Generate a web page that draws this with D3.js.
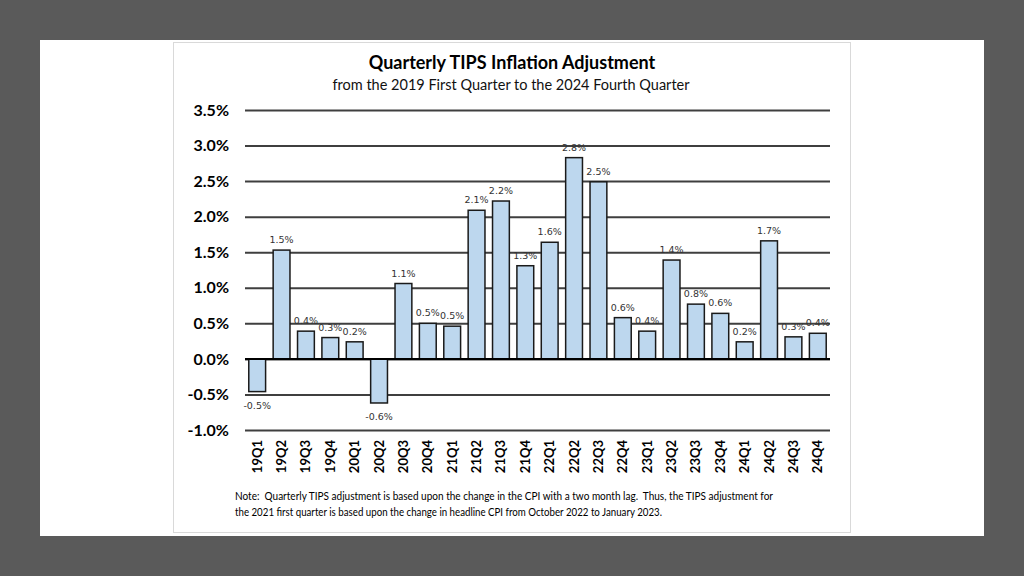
<!DOCTYPE html>
<html>
<head>
<meta charset="utf-8">
<script src="https://cdn.jsdelivr.net/npm/d3@7"></script>
<style>
  html, body { margin: 0; padding: 0; background: #5a5a5a; }
  svg { display: block; }
</style>
</head>
<body>
<svg width="1024" height="576"></svg>
<script>
let quarters = ['19Q1', '19Q2', '19Q3', '19Q4', '20Q1', '20Q2', '20Q3', '20Q4',
                '21Q1', '21Q2', '21Q3', '21Q4', '22Q1', '22Q2', '22Q3', '22Q4',
                '23Q1', '23Q2', '23Q3', '23Q4', '24Q1', '24Q2', '24Q3', '24Q4'];
let adjustment = [-0.46, 1.53, 0.39, 0.30, 0.24, -0.62, 1.06, 0.50,
                  0.46, 2.09, 2.22, 1.31, 1.64, 2.83, 2.49, 0.58,
                  0.39, 1.39, 0.77, 0.64, 0.24, 1.66, 0.31, 0.36];
let yTicks = [-1.0, -0.5, 0.0, 0.5, 1.0, 1.5, 2.0, 2.5, 3.0, 3.5];
let title = 'Quarterly TIPS Inflation Adjustment';
let subtitle = 'from the 2019 First Quarter to the 2024 Fourth Quarter';
let noteLines = [
    'Note:  Quarterly TIPS adjustment is based upon the change in the CPI with a two month lag.  Thus, the TIPS adjustment for',
    'the 2021 first quarter is based upon the change in headline CPI from October 2022 to January 2023.'
];

let svg = d3.select('svg');
let font = 'Lato, "Open Sans", sans-serif';
// plain hyphen for negatives, like the original
let pct = d => d3.formatLocale({ decimal: '.', thousands: ',', grouping: [3], currency: ['', ''], minus: '-' })
    .format('.1f')(d) + '%';

// white page and chart frame
svg.append('rect').attr('x', 40).attr('y', 40).attr('width', 944).attr('height', 496).attr('fill', '#fff');
svg.append('rect').attr('x', 173.5).attr('y', 42.5).attr('width', 677).attr('height', 490)
    .attr('fill', '#fff').attr('stroke', '#d9d9d9').attr('stroke-width', 1);

svg.append('text').attr('x', 512).attr('y', 69).attr('text-anchor', 'middle')
    .style('font-family', font).style('font-weight', 'bold').style('font-size', '18px')
    .attr('fill', '#000').text(title);
svg.append('text').attr('x', 511).attr('y', 90).attr('text-anchor', 'middle')
    .style('font-family', font).style('font-size', '14.5px')
    .attr('fill', '#111').text(subtitle);

let x = d3.scaleBand().domain(quarters).range([245, 830]).paddingInner(0.31).paddingOuter(0.155);
let y = d3.scaleLinear().domain([-1, 3.5]).range([430, 110]);

// gridlines + y labels
let yAxis = svg.append('g').attr('transform', 'translate(245,0)')
    .call(d3.axisLeft(y).tickValues(yTicks).tickSize(-585).tickFormat(pct));
yAxis.select('.domain').remove();
yAxis.selectAll('.tick line').attr('stroke', '#3f3f3f').attr('stroke-width', 2);
yAxis.selectAll('.tick text').attr('x', -16)
    .style('font-family', font).style('font-weight', 'bold').style('font-size', '16px').attr('fill', '#000');

// bars
svg.append('g').selectAll('rect').data(adjustment).join('rect')
    .attr('x', (d, i) => x(quarters[i]))
    .attr('y', d => y(Math.max(0, d)))
    .attr('width', x.bandwidth())
    .attr('height', d => Math.abs(y(d) - y(0)))
    .attr('fill', '#bdd7ee').attr('stroke', '#1a1a1a').attr('stroke-width', 1.5);

// zero line
svg.append('line').attr('x1', 245).attr('x2', 830).attr('y1', y(0)).attr('y2', y(0))
    .attr('stroke', '#000').attr('stroke-width', 2);

// value labels
svg.append('g').selectAll('text').data(adjustment).join('text')
    .attr('x', (d, i) => x(quarters[i]) + x.bandwidth() / 2)
    .attr('y', d => d >= 0 ? y(d) - 7 : y(d) + 17)
    .attr('text-anchor', 'middle')
    .style('font-family', '"DejaVu Sans", sans-serif').style('font-size', '9.5px')
    .attr('fill', '#333').text(pct);

// x labels, rotated
svg.append('g').selectAll('text').data(quarters).join('text')
    .attr('transform', d => `translate(${x(d) + x.bandwidth() / 2 + 4.5}, 440) rotate(-90)`)
    .attr('text-anchor', 'end')
    .style('font-family', font).style('font-weight', 'bold').style('font-size', '13px')
    .attr('fill', '#000').text(d => d);

// note
svg.append('g').selectAll('text').data(noteLines).join('text')
    .attr('x', 235).attr('y', (d, i) => 500 + i * 16)
    .style('font-family', font).style('font-size', '10.5px').attr('fill', '#000')
    .attr('textLength', (d, i) => i === 0 ? 538 : 427).attr('lengthAdjust', 'spacingAndGlyphs')
    .style('white-space', 'pre')
    .text(d => d);
</script>
</body>
</html>
